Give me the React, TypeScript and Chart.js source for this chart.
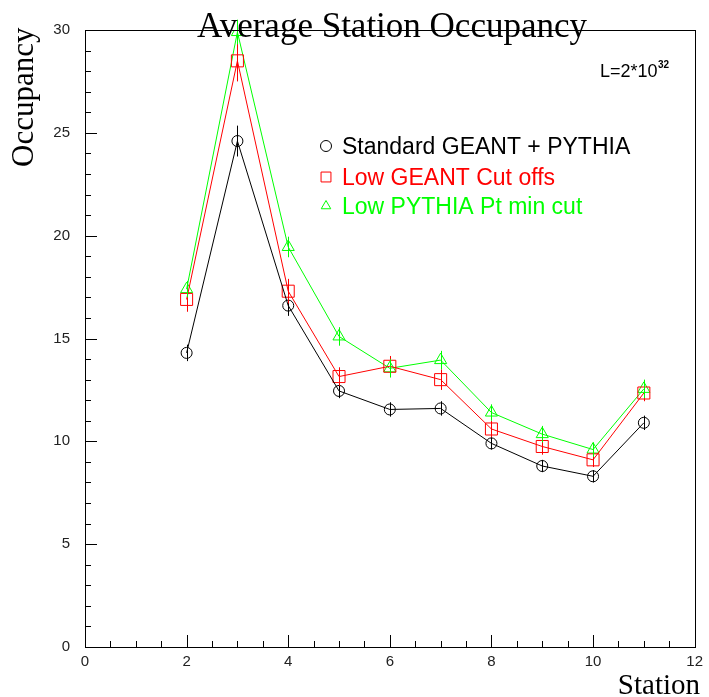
import React, { useEffect, useRef } from "react";
import { Chart, registerables } from "chart.js";

Chart.register(...registerables);

const stations = [2, 3, 4, 5, 6, 7, 8, 9, 10, 11];
const standardValues = [14.3, 24.6, 16.6, 12.45, 11.55, 11.6, 9.9, 8.8, 8.3, 10.9];
const standardErrors = [0.4, 0.75, 0.5, 0.35, 0.35, 0.35, 0.3, 0.3, 0.3, 0.35];
const lowGeantValues = [16.9, 28.5, 17.3, 13.15, 13.65, 13.0, 10.6, 9.75, 9.1, 12.35];
const lowGeantErrors = [0.6, 1.0, 0.6, 0.45, 0.5, 0.5, 0.4, 0.4, 0.35, 0.4];
const lowPtValues = [17.4, 29.9, 19.45, 15.1, 13.55, 13.95, 11.4, 10.35, 9.6, 12.55];
const lowPtErrors = [0.4, 0.6, 0.5, 0.45, 0.45, 0.45, 0.4, 0.4, 0.35, 0.45];
const seriesLabels = ["Standard GEANT + PYTHIA", "Low GEANT Cut offs", "Low PYTHIA Pt min cut"];
const seriesColors = ["#000000", "#ff0000", "#00ff00"];
const seriesStyles = ["circle", "rect", "triangle"];
const seriesRadius = [5.5, 8.5, 7];
const xTickValues = [0, 2, 4, 6, 8, 10, 12];
const yTickValues = [0, 5, 10, 15, 20, 25, 30];

const TICK_FONT = "'Liberation Sans', Arial, sans-serif";
const SERIF = "'Liberation Serif', 'Times New Roman', serif";

function drawMarker(ctx: CanvasRenderingContext2D, style: string, x: number, y: number, r: number) {
  ctx.beginPath();
  if (style === "circle") {
    ctx.arc(x, y, r, 0, Math.PI * 2);
  } else if (style === "rect") {
    const s = r * Math.SQRT1_2;
    ctx.rect(x - s, y - s, 2 * s, 2 * s);
  } else {
    const h = r * 0.75;
    ctx.moveTo(x, y - r);
    ctx.lineTo(x + r * 0.866, y + r * 0.5);
    ctx.lineTo(x - r * 0.866, y + r * 0.5);
    ctx.closePath();
    void h;
  }
  ctx.stroke();
}

const decorPlugin = {
  id: "decor",
  afterDatasetsDraw(chart: any) {
    const ctx: CanvasRenderingContext2D = chart.ctx;
    const area = chart.chartArea;
    const xs = chart.scales.x;
    const ys = chart.scales.y;
    const errs = [standardErrors, lowGeantErrors, lowPtErrors];
    ctx.save();
    // error bars
    chart.data.datasets.forEach((ds: any, i: number) => {
      const meta = chart.getDatasetMeta(i);
      ctx.strokeStyle = seriesColors[i];
      ctx.lineWidth = 1;
      meta.data.forEach((pt: any, j: number) => {
        const v = ds.data[j].y;
        const e = errs[i][j];
        ctx.beginPath();
        ctx.moveTo(Math.round(pt.x) + 0.5, ys.getPixelForValue(v + e));
        ctx.lineTo(Math.round(pt.x) + 0.5, ys.getPixelForValue(v - e));
        ctx.stroke();
      });
    });
    // frame
    ctx.strokeStyle = "#000";
    ctx.lineWidth = 1;
    ctx.strokeRect(Math.round(area.left) + 0.5, Math.round(area.top) + 0.5,
      Math.round(area.right - area.left), Math.round(area.bottom - area.top));
    // inward ticks
    ctx.beginPath();
    for (let v = 0; v <= 12.0001; v += 0.5) {
      const px = Math.round(xs.getPixelForValue(v)) + 0.5;
      const len = Math.abs(v / 2 - Math.round(v / 2)) < 1e-6 ? 12 : 6;
      ctx.moveTo(px, area.bottom);
      ctx.lineTo(px, area.bottom - len);
    }
    for (let v = 0; v <= 30.0001; v += 1) {
      const py = Math.round(ys.getPixelForValue(v)) + 0.5;
      const len = v % 5 === 0 ? 12 : 6;
      ctx.moveTo(area.left, py);
      ctx.lineTo(area.left + len, py);
    }
    ctx.stroke();
    // legend
    ctx.font = "23px " + TICK_FONT;
    ctx.textAlign = "left";
    ctx.textBaseline = "alphabetic";
    const rows = [154, 185, 214];
    seriesLabels.forEach((lab, i) => {
      ctx.strokeStyle = seriesColors[i];
      ctx.fillStyle = seriesColors[i];
      drawMarker(ctx, seriesStyles[i], 326, rows[i] - 8, i === 1 ? 7 : 5.5);
      ctx.fillText(lab, 342, rows[i]);
    });
    // luminosity
    ctx.fillStyle = "#000";
    ctx.font = "18px " + TICK_FONT;
    ctx.fillText("L=2*10", 600, 77);
    const w = ctx.measureText("L=2*10").width;
    ctx.font = "bold 10px " + TICK_FONT;
    ctx.fillText("32", 600 + w + 0.5, 68);
    // title
    ctx.font = "35px " + SERIF;
    ctx.textAlign = "center";
    ctx.fillText("Average Station Occupancy", 392, 37);
    // x title
    ctx.font = "29px " + SERIF;
    ctx.textAlign = "right";
    ctx.fillText("Station", 700, 694);
    // y title
    ctx.save();
    ctx.translate(33, 167);
    ctx.rotate(-Math.PI / 2);
    ctx.font = "31px " + SERIF;
    ctx.textAlign = "left";
    ctx.fillText("Occupancy", 0, 0);
    ctx.restore();
    ctx.restore();
  },
};

export default function App() {
  const ref = useRef<HTMLCanvasElement | null>(null);
  useEffect(() => {
    if (!ref.current) return;
    const sets = [standardValues, lowGeantValues, lowPtValues];
    const chart = new Chart(ref.current, {
      type: "line",
      data: {
        datasets: sets.map((vals, i) => ({
          label: seriesLabels[i],
          data: stations.map((s, j) => ({ x: s, y: vals[j] })),
          borderColor: seriesColors[i],
          borderWidth: 1,
          tension: 0,
          fill: false,
          pointStyle: seriesStyles[i] as any,
          pointRadius: seriesRadius[i],
          pointBorderColor: seriesColors[i],
          pointBackgroundColor: "rgba(0,0,0,0)",
          pointBorderWidth: 1,
        })),
      },
      options: {
        responsive: false,
        devicePixelRatio: 1,
        animation: false,
        layout: { padding: { left: 0, right: 11, top: 30, bottom: 0 } },
        plugins: {
          legend: { display: false },
          title: { display: false },
          tooltip: { enabled: false },
        },
        scales: {
          x: {
            type: "linear",
            min: 0,
            max: 12,
            afterBuildTicks: (s: any) => { s.ticks = xTickValues.map((v) => ({ value: v })); },
            afterFit: (s: any) => { s.height = 50; },
            grid: { display: false, drawTicks: false },
            border: { display: false },
            ticks: { padding: 6, color: "#222", font: { size: 15, family: TICK_FONT }, maxRotation: 0 },
          },
          y: {
            type: "linear",
            min: 0,
            max: 30,
            afterBuildTicks: (s: any) => { s.ticks = yTickValues.map((v) => ({ value: v })); },
            afterFit: (s: any) => { s.width = 85; },
            grid: { display: false, drawTicks: false },
            border: { display: false },
            ticks: { padding: 15, color: "#222", font: { size: 15, family: TICK_FONT } },
          },
        },
      },
      plugins: [decorPlugin],
    });
    return () => chart.destroy();
  }, []);
  return (
    <div style={{ position: "absolute", left: 0, top: 0, width: 709, height: 697, background: "#fff" }}>
      <canvas ref={ref} width={709} height={697} style={{ display: "block" }} />
    </div>
  );
}
